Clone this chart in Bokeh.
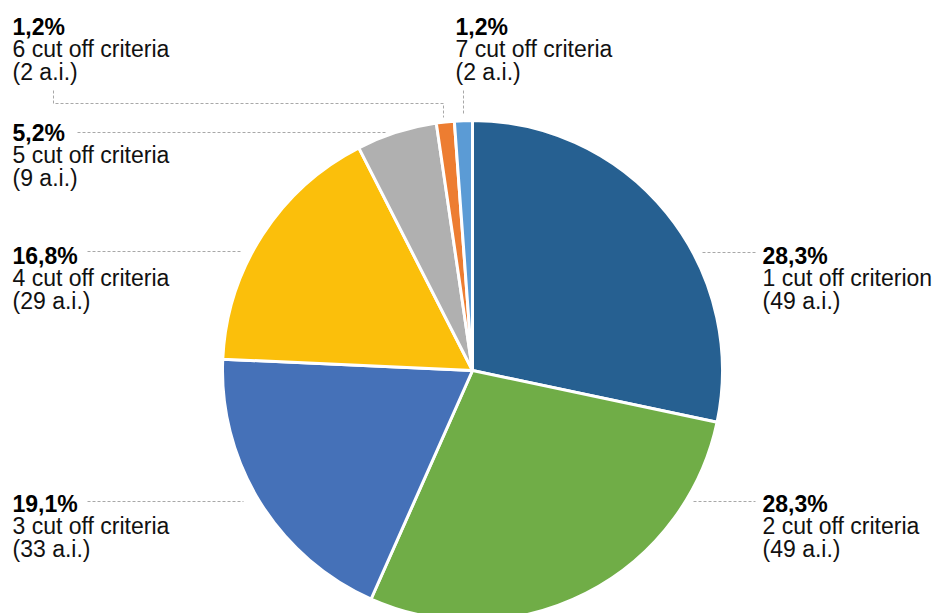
import math
from bokeh.plotting import figure
from bokeh.models import Range1d, ColumnDataSource
from bokeh.core.properties import value
from bokeh.embed import file_html
from bokeh.resources import INLINE

# ---- data ----
categories = ["1 cut off criterion", "2 cut off criteria", "3 cut off criteria",
              "4 cut off criteria", "5 cut off criteria", "6 cut off criteria",
              "7 cut off criteria"]
counts = [49, 49, 33, 29, 9, 2, 2]
colors = ["#266091", "#70ad47", "#4571b8", "#fbbf0b", "#b0b0b0", "#ed7d31", "#5b9bd5"]

W, H = 938, 613
total = sum(counts)
pct_labels = [("%.1f%%" % (100.0 * c / total)).replace(".", ",") for c in counts]
count_labels = ["(%d a.i.)" % c for c in counts]

# ---- layout (screen px, y down) ----
cx, cy, R = 472, 370, 250
label_pos = [(762, 255), (762, 503), (12, 503), (12, 255), (12, 132), (12, 26), (455, 26)]
leaders = [
    [(702, 252), (755, 252)],
    [(693, 501), (755, 501)],
    [(87, 501), (243, 501)],
    [(87, 251), (242, 251)],
    [(77, 132), (385, 132)],
    [(53, 90), (53, 103), (443, 103), (443, 117)],
    [(463, 90), (463, 115)],
]
LH = 22.5

p = figure(width=W, height=H, x_range=Range1d(0, W), y_range=Range1d(0, H),
           output_backend="svg", toolbar_location=None, min_border=0)
p.axis.visible = False
p.grid.visible = False
p.outline_line_color = None
p.background_fill_color = "white"

# wedges, clockwise from top
starts, ends = [], []
cum = 0.0
for c in counts:
    a0 = math.pi / 2 - 2 * math.pi * (cum + c) / total
    a1 = math.pi / 2 - 2 * math.pi * cum / total
    starts.append(a0)
    ends.append(a1)
    cum += c
src = ColumnDataSource(dict(x=[cx] * len(counts), y=[H - cy] * len(counts),
                            start=starts, end=ends, color=colors))
p.wedge(x="x", y="y", radius=R, start_angle="start", end_angle="end",
        fill_color="color", line_color="white", line_width=3, source=src)

# leader lines
p.multi_line(xs=[[pt[0] for pt in l] for l in leaders],
             ys=[[H - pt[1] for pt in l] for l in leaders],
             line_color="#a8a8a8", line_width=1, line_dash="3 2")

# labels
lx = [q[0] for q in label_pos]
ly = [H - q[1] for q in label_pos]
font = value("Liberation Sans")
p.text(x=lx, y=ly, text=pct_labels, text_font=font, text_font_size="23px",
       text_font_style="bold", text_color="#000000", text_baseline="alphabetic")
p.text(x=lx, y=[v - LH for v in ly], text=categories, text_font=font,
       text_font_size="23px", text_color="#111111", text_baseline="alphabetic")
p.text(x=lx, y=[v - 2 * LH for v in ly], text=count_labels, text_font=font,
       text_font_size="23px", text_color="#111111", text_baseline="alphabetic")

open("out.html", "w").write(file_html(p, INLINE))
